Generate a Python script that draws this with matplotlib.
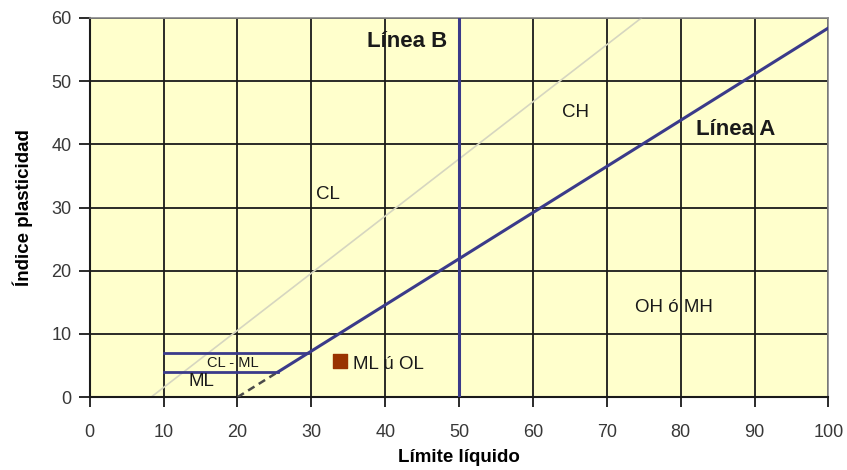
import matplotlib.pyplot as plt
import numpy as np

plt.rcParams['font.family'] = ['Liberation Sans', 'DejaVu Sans']

# carta de plasticidad
x_ticks = [0, 10, 20, 30, 40, 50, 60, 70, 80, 90, 100]
y_ticks = [0, 10, 20, 30, 40, 50, 60]

linea_a_x = [25.5, 100]
linea_a_y = [4.0, 58.4]
linea_a_dash_x = [20, 25.5]
linea_a_dash_y = [0, 4.0]
linea_b_x = [50, 50]
linea_b_y = [0, 60]
linea_u_x = [8.3, 74.7]
linea_u_y = [0, 60]
cl_ml_x = [10, 29.6]
cl_ml_y = [7, 7]
ml_x = [10, 25.5]
ml_y = [4, 4]
muestra_x = [33.9]
muestra_y = [5.7]

# texto, x, y, tamaño, peso, alineacion
etiquetas = [
    ("CL", 32.3, 32, 13.5, "normal", "center"),
    ("CH", 65.8, 45, 13.5, "normal", "center"),
    ("OH ó MH", 79.1, 14.2, 13.5, "normal", "center"),
    ("ML ú OL", 35.6, 5.1, 13.5, "normal", "left"),
    ("CL - ML", 19.4, 5.4, 10.5, "normal", "center"),
    ("ML", 15.1, 2.4, 13.5, "normal", "center"),
    ("Línea B", 43.0, 56.2, 16, "bold", "center"),
    ("Línea A", 87.5, 42.3, 16, "bold", "center"),
]

fig = plt.figure(figsize=(8.47, 4.70), dpi=100)
ax = fig.add_axes([0.106, 0.155, 0.872, 0.807])
ax.set_facecolor("#ffffcc")

ax.set_xlim(0, 100)
ax.set_ylim(0, 60)
ax.set_xticks(x_ticks)
ax.set_yticks(y_ticks)
ax.grid(True, color="#1a1a1a", linewidth=1.3)
ax.set_axisbelow(True)

ax.plot(linea_u_x, linea_u_y, color="#d6d6c0", linewidth=1.2, zorder=2)
ax.plot(linea_a_x, linea_a_y, color="#3a3a8a", linewidth=2.2, zorder=3)
ax.plot(linea_a_dash_x, linea_a_dash_y, color="#4a4a4a", linewidth=1.8,
        linestyle=(0, (3, 2)), zorder=3)
ax.plot(linea_b_x, linea_b_y, color="#3a3a8a", linewidth=2.2, zorder=3)
ax.plot(cl_ml_x, cl_ml_y, color="#3a3a8a", linewidth=2, zorder=3)
ax.plot(ml_x, ml_y, color="#3a3a8a", linewidth=2, zorder=3)
ax.scatter(muestra_x, muestra_y, marker="s", s=95, color="#993300", zorder=4)

for txt, x, y, fs, fw, ha in etiquetas:
    ax.text(x, y, txt, fontsize=fs, fontweight=fw, color="#1a1a1a",
            ha=ha, va="center", zorder=5)

for s in ["left", "bottom"]:
    ax.spines[s].set_color("#1a1a1a")
    ax.spines[s].set_linewidth(1.5)
for s in ["top", "right"]:
    ax.spines[s].set_color("#888888")
    ax.spines[s].set_linewidth(1.2)

ax.tick_params(axis="both", labelsize=13, colors="#1a1a1a", labelcolor="#383838")
ax.tick_params(axis="y", length=8, width=1.3, pad=5)
ax.tick_params(axis="x", length=7, width=1.3, pad=12)

ax.set_xlabel("Límite líquido", fontsize=13.5, fontweight="bold", labelpad=6)
ax.set_ylabel("Índice plasticidad", fontsize=13.5, fontweight="bold", labelpad=13)

fig.savefig("out.png", dpi=100)
